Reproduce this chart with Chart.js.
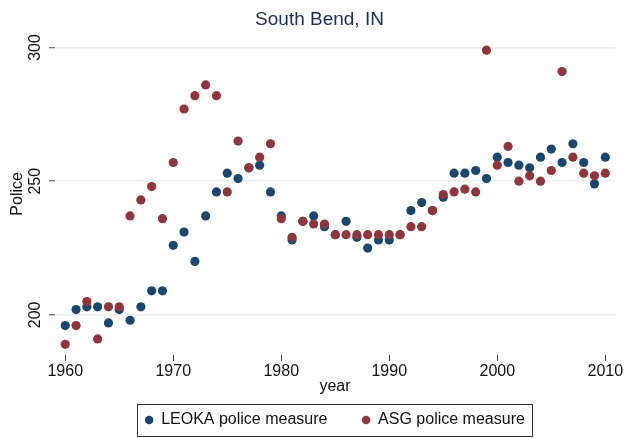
<!DOCTYPE html>
<html>
<head>
<meta charset="utf-8">
<script src="https://cdn.jsdelivr.net/npm/chart.js@4"></script>
<style>
  html, body { margin: 0; padding: 0; background: #fff; }
  #wrap { width: 626px; height: 438px; }
</style>
</head>
<body>
<div id="wrap"><canvas id="chart" width="626" height="438"></canvas></div>
<script>
var years = [1960, 1961, 1962, 1963, 1964, 1965, 1966, 1967, 1968, 1969,
             1970, 1971, 1972, 1973, 1974, 1975, 1976, 1977, 1978, 1979,
             1980, 1981, 1982, 1983, 1984, 1985, 1986, 1987, 1988, 1989,
             1990, 1991, 1992, 1993, 1994, 1995, 1996, 1997, 1998, 1999,
             2000, 2001, 2002, 2003, 2004, 2005, 2006, 2007, 2008, 2009, 2010];

var leoka = [196, 202, 203, 203, 197, 202, 198, 203, 209, 209,
             226, 231, 220, 237, 246, 253, 251, 255, 256, 246,
             237, 228, 235, 237, 233, 230, 235, 229, 225, 228,
             228, 230, 239, 242, 239, 244, 253, 253, 254, 251,
             259, 257, 256, 255, 259, 262, 257, 264, 257, 249, 259];

var asg = [189, 196, 205, 191, 203, 203, 237, 243, 248, 236,
           257, 277, 282, 286, 282, 246, 265, 255, 259, 264,
           236, 229, 235, 234, 234, 230, 230, 230, 230, 230,
           230, 230, 233, 233, 239, 245, 246, 247, 246, 299,
           256, 263, 250, 252, 250, 254, 291, 259, 253, 252, 253];

var xTicks = [1960, 1970, 1980, 1990, 2000, 2010];
var yTicks = [200, 250, 300];

var seriesNames = ['LEOKA police measure', 'ASG police measure'];
var seriesColors = ['#1a476f', '#90353b'];

var fontFamily = '"Liberation Sans", Arial, Helvetica, sans-serif';

function toPoints(values) {
    return years.map(function (yr, i) { return { x: yr, y: values[i] }; });
}

// stata-style box around the legend
var legendBox = {
    id: 'legendBox',
    afterDraw: function (chart) {
        var lg = chart.legend;
        if (!lg || !lg.legendHitBoxes || !lg.legendHitBoxes.length) return;
        var left = Infinity, right = -Infinity;
        lg.legendHitBoxes.forEach(function (hb) {
            left = Math.min(left, hb.left);
            right = Math.max(right, hb.left + hb.width);
        });
        var ctx = chart.ctx;
        ctx.save();
        ctx.strokeStyle = '#333';
        ctx.lineWidth = 1;
        ctx.strokeRect(Math.round(left - 8) + 0.5, Math.round(lg.top) + 0.5,
                       Math.round(right - left + 15), 32);
        ctx.restore();
    }
};

var options = {
    responsive: false,
    animation: false,
    layout: {
        padding: { left: 24, right: 11, top: 0, bottom: 0 }
    },
    plugins: {
        title: {
            display: true,
            text: 'South Bend, IN',
            color: '#1c2d5b',
            font: { family: fontFamily, size: 19, weight: 'normal', lineHeight: 1.2 },
            padding: { top: 8, bottom: 2 }
        },
        legend: {
            position: 'bottom',
            fullSize: false,
            labels: {
                usePointStyle: true,
                pointStyle: 'circle',
                boxWidth: 8,
                boxHeight: 6,
                padding: 8,
                color: '#111',
                font: { family: fontFamily, size: 16 },
                sort: function (a, b) { return a.datasetIndex - b.datasetIndex; },
                generateLabels: function (chart) {
                    var items = Chart.defaults.plugins.legend.labels.generateLabels(chart);
                    // stata gives each key an equal-width column
                    items.forEach(function (it) {
                        if (it.datasetIndex === 0) it.text = it.text + '      ';
                    });
                    return items;
                }
            }
        },
        tooltip: { enabled: false }
    },
    scales: {
        x: {
            type: 'linear',
            min: 1959.05,
            max: 2010.9,
            afterBuildTicks: function (scale) {
                scale.ticks = xTicks.map(function (v) { return { value: v }; });
            },
            afterFit: function (scale) {
                scale.height = 438 - 355 - 34;
            },
            border: { display: false },
            grid: {
                drawOnChartArea: false,
                drawTicks: true,
                tickLength: 6,
                tickColor: '#444',
                tickWidth: 1
            },
            ticks: {
                padding: 1,
                maxRotation: 0,
                color: '#111',
                font: { family: fontFamily, size: 16 },
                callback: function (v) { return String(v); }
            },
            title: {
                display: true,
                text: 'year',
                color: '#111',
                font: { family: fontFamily, size: 16 },
                padding: { top: 0, bottom: 8 }
            }
        },
        y: {
            min: 185,
            max: 305.5,
            afterBuildTicks: function (scale) {
                scale.ticks = yTicks.map(function (v) { return { value: v }; });
            },
            afterFit: function (scale) {
                scale.width = 31;
            },
            border: { display: false },
            grid: {
                color: '#e8eff1',
                lineWidth: 1.5,
                drawTicks: true,
                tickLength: 6,
                tickColor: '#444',
                tickWidth: 1
            },
            ticks: {
                minRotation: 90,
                maxRotation: 90,
                crossAlign: 'center',
                padding: 0,
                color: '#111',
                font: { family: fontFamily, size: 16 }
            },
            title: {
                display: true,
                text: 'Police',
                color: '#111',
                font: { family: fontFamily, size: 16 },
                padding: { top: -16, bottom: 0 }
            }
        }
    }
};

var datasets = [];
[leoka, asg].forEach(function (values, i) {
    datasets.push({
        label: seriesNames[i],
        data: toPoints(values),
        backgroundColor: seriesColors[i],
        borderColor: seriesColors[i],
        pointRadius: 4.6,
        pointBorderWidth: 0,
        order: 1 - i
    });
});

new Chart(document.getElementById('chart'), {
    type: 'scatter',
    data: { datasets: datasets },
    options: options,
    plugins: [legendBox]
});
</script>
</body>
</html>
